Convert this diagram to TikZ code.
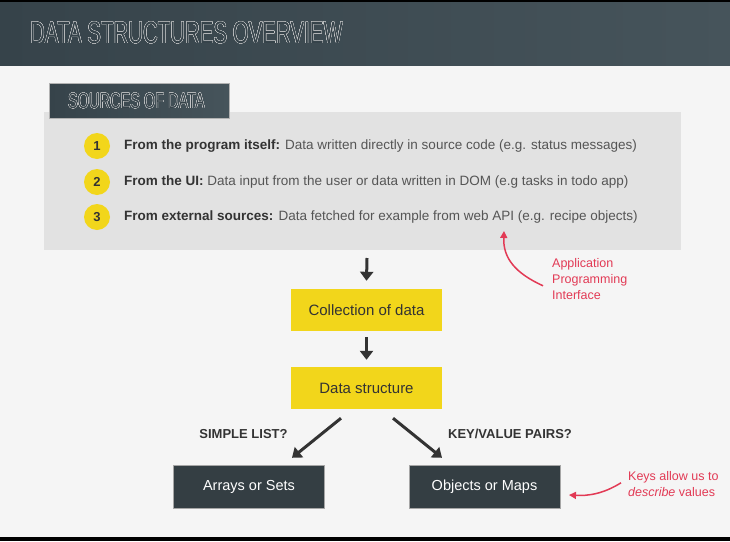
\documentclass[tikz,border=0pt]{standalone}
\usepackage{fontspec}
\setmainfont{Liberation Sans}
\usepackage{contour}
\usetikzlibrary{arrows.meta}

\definecolor{hdrleft}{HTML}{36434A}
\definecolor{hdrright}{HTML}{46545B}
\definecolor{pagebg}{HTML}{F5F5F5}
\definecolor{panelgray}{HTML}{E2E2E2}
\definecolor{dotyellow}{HTML}{F2D61B}
\definecolor{boxdark}{HTML}{343E43}
\definecolor{txtdark}{HTML}{333333}
\definecolor{txtmid}{HTML}{555555}
\definecolor{notered}{HTML}{E23A55}
\contourlength{0.35pt}

\newcommand{\slidetitle}[2]{\scalebox{0.66}[1]{\fontsize{#1}{#1}\selectfont\contour{white!85!black}{\textcolor{hdrleft}{#2}}}}

\begin{document}
\begin{tikzpicture}[x=1pt,y=-1pt]
   \tikzstyle{every node}=[inner sep=0pt]
   \tikzstyle{numdot}=[circle, fill=dotyellow, minimum size=26pt, text=txtdark, font=\fontsize{13}{13}\selectfont\bfseries]
   \tikzstyle{srcline}=[anchor=west, text=txtmid, font=\fontsize{13.5}{15}\selectfont]
   \tikzstyle{ybox}=[fill=dotyellow, minimum width=151pt, minimum height=42pt, text=txtdark, font=\fontsize{15}{17}\selectfont]
   \tikzstyle{dbox}=[fill=boxdark, draw=gray!70, line width=0.4pt, minimum width=151pt, minimum height=43pt, text=white, font=\fontsize{14.5}{16}\selectfont]
   \tikzstyle{question}=[text=txtdark, font=\fontsize{13}{14}\selectfont\bfseries]
   \tikzstyle{note}=[anchor=north west, align=left, text=notered, font=\fontsize{12.5}{16}\selectfont]
   \tikzstyle{bigarrow}=[draw=txtdark, line width=3pt, -{Triangle[length=9pt,width=13pt]}]
   \tikzstyle{redarrow}=[draw=notered, line width=1.5pt, -{Triangle[length=7pt,width=7pt]}]

\useasboundingbox (0,0) rectangle (730,541);
% page and header
\fill[pagebg] (0,0) rectangle (730,541);
\shade[left color=hdrleft, right color=hdrright] (0,1.5) rectangle (730,65);
\fill[black] (0,0) rectangle (730,1.5);
\fill[black] (0,537) rectangle (730,541);
\node[anchor=west] (title) at (30,33) {\slidetitle{31}{DATA STRUCTURES OVERVIEW}};

% sources panel
\fill[panelgray] (44,112) rectangle (681,250);
\coordinate (panel) at (367,250);
\shade[left color=hdrleft, right color=hdrright, draw=gray!60] (49,83) rectangle (229,118);
\node[anchor=west] (srchead) at (68,101) {\slidetitle{22}{SOURCES OF DATA}};

\node[numdot] (n1) at (97,146) {1};
\node[numdot] (n2) at (97,182) {2};
\node[numdot] (n3) at (97,217) {3};
\node[srcline] (s1) at (124,146) {\textcolor{txtdark}{\textbf{From the program itself:}} Data written directly in source code (e.g. status messages)};
\node[srcline] (s2) at (124,182) {\textcolor{txtdark}{\textbf{From the UI:}} Data input from the user or data written in DOM (e.g tasks in todo app)};
\node[srcline] (s3) at (124,217) {\textcolor{txtdark}{\textbf{From external sources:}} Data fetched for example from web API (e.g. recipe objects)};

% flow
\node[ybox] (coll) at (366.5,310) {Collection of data};
\node[ybox] (ds) at (366.5,388) {Data structure};
\node[dbox] (arrays) at (249,487) {Arrays or Sets};
\node[dbox] (objects) at (484.5,487) {Objects or Maps};

\draw[bigarrow] (panel) ++(0,8) -- ([yshift=8pt]coll.north);
\draw[bigarrow] ([yshift=-6pt]coll.south) -- ([yshift=7pt]ds.north);
\draw[bigarrow] ([xshift=-25.5pt,yshift=-9pt]ds.south) -- ([xshift=43pt,yshift=7.5pt]arrays.north);
\draw[bigarrow] ([xshift=26.5pt,yshift=-9pt]ds.south) -- ([xshift=-42.5pt,yshift=7.5pt]objects.north);

\node[question] (simple) at (243.5,434) {SIMPLE LIST?};
\node[question] (keyval) at (510,434) {KEY/VALUE PAIRS?};

% notes
\node[note] (api) at (552,258) {Application\\Programming\\Interface};
\node[note] (keys) at (628,471) {Keys allow us to\\\textit{describe} values};
\coordinate (apitip) at (504,231);
\coordinate (keystip) at (569,495);
\draw[redarrow] ([xshift=-9pt,yshift=-7pt]api.west) .. controls (515,273) and (503,258) .. (apitip);
\draw[redarrow] ([xshift=-7pt,yshift=1pt]keys.west) .. controls (603,494) and (588,496) .. (keystip);

\end{tikzpicture}
\end{document}
